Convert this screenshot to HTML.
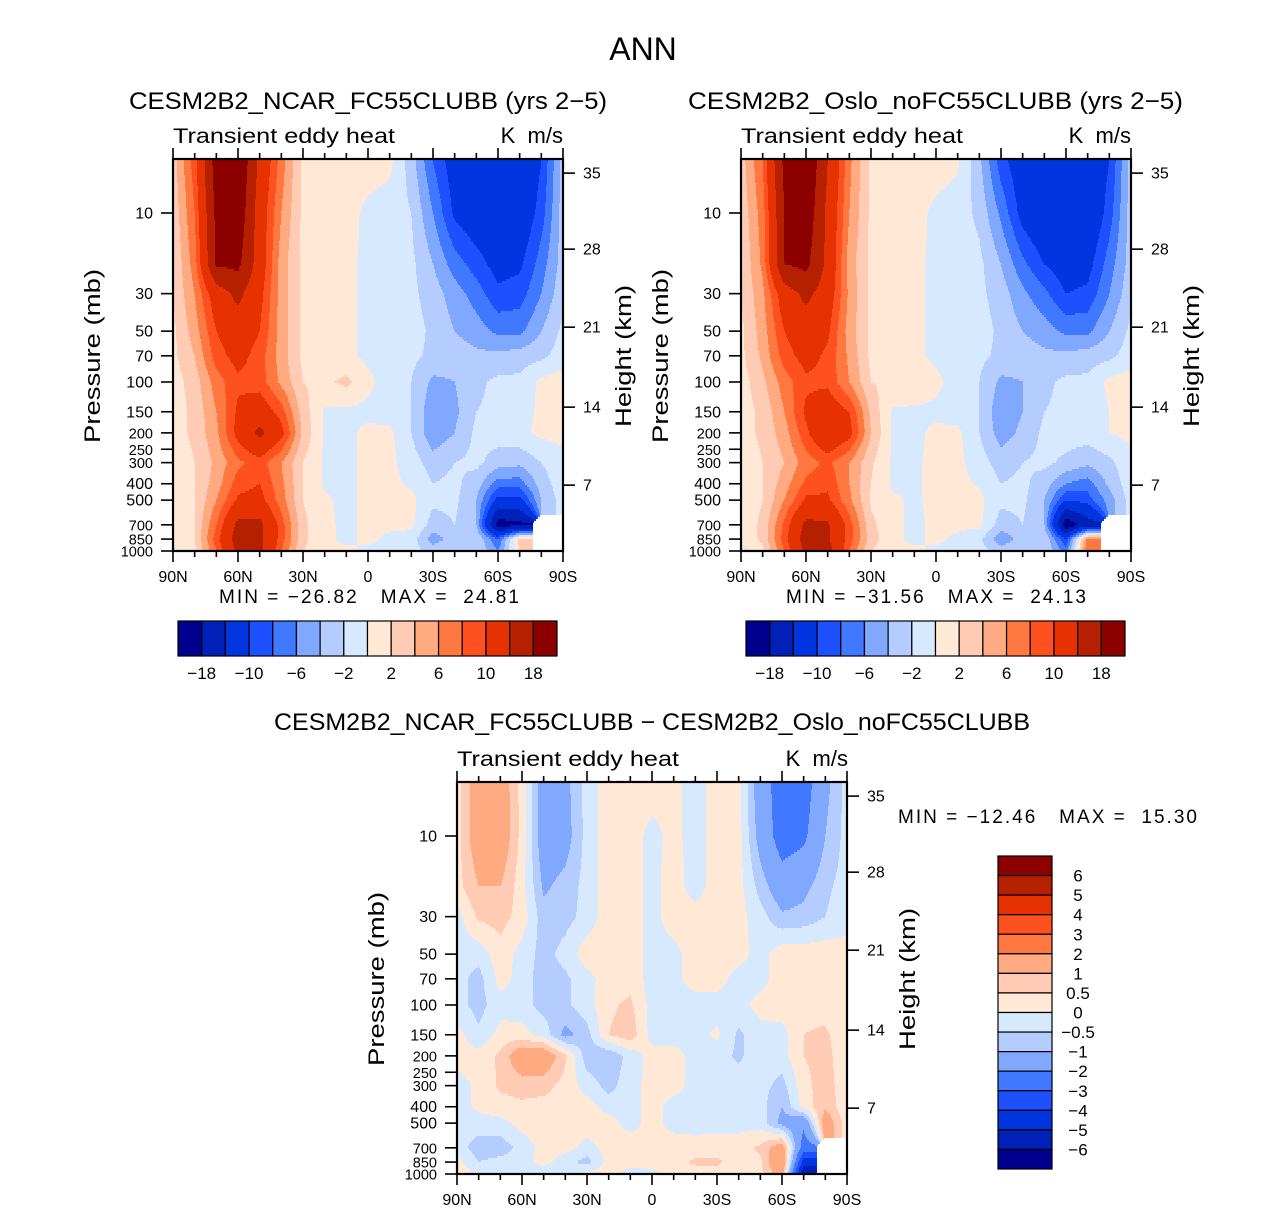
<!DOCTYPE html>
<html><head><meta charset="utf-8"><title>ANN Transient eddy heat</title>
<style>
html,body{margin:0;padding:0;background:#fff;}
svg text{font-family:"Liberation Sans",sans-serif;fill:#000;}
</style></head>
<body>
<svg id="fig" xmlns="http://www.w3.org/2000/svg" width="1285" height="1211" viewBox="0 0 1285 1211">
<rect x="0" y="0" width="1285" height="1211" fill="#fff"/>
<text x="643" y="60" font-size="32" text-anchor="middle">ANN</text>

<text x="129" y="109" font-size="24" textLength="478" lengthAdjust="spacingAndGlyphs">CESM2B2_NCAR_FC55CLUBB (yrs 2−5)</text>
<text x="173" y="143" font-size="21" textLength="222" lengthAdjust="spacingAndGlyphs">Transient eddy heat</text>
<text x="563" y="143" font-size="22" text-anchor="end" xml:space="preserve">K  m/s</text>
<text transform="translate(100,356) rotate(-90)" font-size="22" text-anchor="middle" textLength="174" lengthAdjust="spacingAndGlyphs">Pressure (mb)</text>
<text transform="translate(631,356) rotate(-90)" font-size="22" text-anchor="middle" textLength="142" lengthAdjust="spacingAndGlyphs">Height (km)</text>
<text x="219" y="603" font-size="19" textLength="300" lengthAdjust="spacing" xml:space="preserve">MIN = −26.82   MAX =  24.81</text>

<text x="688" y="109" font-size="24" textLength="495" lengthAdjust="spacingAndGlyphs">CESM2B2_Oslo_noFC55CLUBB (yrs 2−5)</text>
<text x="741" y="143" font-size="21" textLength="222" lengthAdjust="spacingAndGlyphs">Transient eddy heat</text>
<text x="1131" y="143" font-size="22" text-anchor="end" xml:space="preserve">K  m/s</text>
<text transform="translate(668,356) rotate(-90)" font-size="22" text-anchor="middle" textLength="174" lengthAdjust="spacingAndGlyphs">Pressure (mb)</text>
<text transform="translate(1199,356) rotate(-90)" font-size="22" text-anchor="middle" textLength="142" lengthAdjust="spacingAndGlyphs">Height (km)</text>
<text x="786" y="603" font-size="19" textLength="300" lengthAdjust="spacing" xml:space="preserve">MIN = −31.56   MAX =  24.13</text>

<text x="274" y="730" font-size="24" textLength="756" lengthAdjust="spacingAndGlyphs">CESM2B2_NCAR_FC55CLUBB − CESM2B2_Oslo_noFC55CLUBB</text>
<text x="457" y="766" font-size="21" textLength="222" lengthAdjust="spacingAndGlyphs">Transient eddy heat</text>
<text x="848" y="766" font-size="22" text-anchor="end" xml:space="preserve">K  m/s</text>
<text transform="translate(384,979) rotate(-90)" font-size="22" text-anchor="middle" textLength="174" lengthAdjust="spacingAndGlyphs">Pressure (mb)</text>
<text transform="translate(915,979) rotate(-90)" font-size="22" text-anchor="middle" textLength="142" lengthAdjust="spacingAndGlyphs">Height (km)</text>
<text x="898" y="823" font-size="19" textLength="299" lengthAdjust="spacing" xml:space="preserve">MIN = −12.46   MAX =  15.30</text>
</svg>
<script>
const LATS=[90,80,70,60,50,40,30,20,10,0,-10,-20,-30,-40,-50,-60,-70,-80,-90];
const PLEV=[5,10,20,30,50,70,100,150,200,300,400,500,700,850,1000];
const COLORS=["#00008f","#0020b8","#0035e0","#1e50ff","#4078ff","#80a8ff","#b4ccff","#d6e9ff","#ffe9d6","#ffcbb4","#ffaa80","#ff7840","#ff5020","#e63200","#b42000","#8c0000"];
const LEVELS_FULL=[-18,-14,-10,-8,-6,-4,-2,0,2,4,6,8,10,14,18];
const LEVELS_DIFF=[-6,-5,-4,-3,-2,-1,-0.5,0,0.5,1,2,3,4,5,6];
const LABELS_FULL=["−18","−10","−6","−2","2","6","10","18"];
const LABELS_DIFF=["6","5","4","3","2","1","0.5","0","−0.5","−1","−2","−3","−4","−5","−6"];
const XTICK_LABELS=["90N","60N","30N","0","30S","60S","90S"];
const YTICK_P=[1000,850,700,500,400,300,250,200,150,100,70,50,30,10];
const YTICK_LABELS=["1000","850","700","500","400","300","250","200","150","100","70","50","30","10"];
const HT_KM=[7,14,21,28,35];
const HT_FRAC_FROM_BOTTOM=[0.168,0.367,0.571,0.770,0.964];
const N=NaN;
const FIELD_NCAR=[
[3,9,20,22,13,7,1.5,1,1,1,0.5,-3,-8,-11.5,-12.5,-13,-13,-10,-3],
[2.5,8,19,21,12,6,1.5,1,0.8,-0.5,-1,-2,-6,-10.5,-12,-12.5,-12.5,-9,-3],
[2,7,18.5,19,12,5,1.5,1,0.5,-0.5,-1,-1.5,-4,-7,-9,-11,-10.5,-7,-3],
[2,6,12,15,11,5,1.5,1,0.5,-0.5,-1,-1.5,-3,-5,-7,-9.5,-9,-6,-2.5],
[1.5,5,10,12,10,5,1.5,1,0.5,-0.5,-1,-1,-2.5,-4,-5,-6.5,-6.5,-4,-1.5],
[1.5,4,9,11,9,5,1.5,1,0.5,-0.5,-1,-1.5,-2.5,-3,-3.5,-3.5,-3,-2.5,-1],
[1,3,7,9.5,9,5.5,2,1.5,2.5,0.5,-1,-2,-4.5,-4,-2.5,-1.5,-1.5,0.5,1],
[1,2.5,6,10.5,12,9,3,-0.3,-0.5,-0.5,-1,-2,-5.5,-4.5,-2,-1.5,-1,0.5,1],
[1,2.5,5.5,11,15,11,3.5,-0.3,-0.5,0.5,0.5,-2,-5.5,-4,-1.5,-1,-0.5,0.5,0.5],
[0.5,2,4.5,7.5,9,6,2,-0.3,-0.5,0.5,0.5,-1,-3,-2,-1.5,-3,-3.5,-2,-0.5],
[0.5,2,5,9,10,6.5,2,-0.3,-0.5,0.5,0.5,-0.3,-2,-1.5,-3,-7,-7,-3,-0.8],
[0.5,2,6,10.5,11,7,2,0.3,-0.5,0.5,0.5,0.5,-1.5,-1.5,-4,-11,-11,-4,-1],
[0.5,2,8,15,15,9,2.5,0.5,-0.5,0.5,0.5,0.5,-3,-2,-4,-20,-19,N,N],
[0.5,2,9,16,15,9,2.5,0.5,-0.5,0.5,-0.5,-1,-5,-3,-2,-8,3,N,N],
[-0.5,1.5,8,15,15,8,2,0.5,0.5,-0.5,-0.5,-1,-3,-2,-2,-6,2,N,N]];
const FIELD_OSLO=[
[3,8,19,22,14,6.5,1.5,1,1,1,0.3,-3.5,-9,-12,-13,-12,-12.5,-10,-3],
[2.5,7,18,21,13,6,1.5,1,0.8,-0.5,-1,-2.5,-6.5,-11,-13,-13,-13,-9,-3],
[2,6.5,18,19,13,5,1.5,1,0.5,-0.5,-1,-1.5,-4,-7.5,-10,-11.5,-11,-7,-3],
[2,5.5,12,15,12,5.5,1.5,1,0.5,-0.5,-1,-1.5,-3,-5.5,-7.5,-10,-9.5,-6,-2.5],
[1.5,5,10,12,10.5,5,1.5,1,0.5,-0.5,-1,-1,-2.5,-4,-5,-6.5,-6.5,-4,-1.5],
[1.5,4.5,9,11,9.5,5.5,1.5,1,0.5,-0.5,-1,-1.5,-2.5,-3,-3.5,-3.5,-3,-2.5,-1],
[1,3.5,7,9.5,9.5,6,2,1.5,2,0.5,-1,-2,-4.5,-4,-2.5,-1.5,-1.5,0.5,1],
[1,2.5,6,10.5,12,10,3.5,-0.3,-0.5,-0.5,-1,-2,-5.5,-4,-2,-1.5,-1.5,0,1],
[1,2.5,5,9.5,13.5,11,4,-0.3,-0.5,0.5,0.5,-2,-5,-3.5,-1.5,-1,-1,0,0.5],
[0.5,2,4,7,8.5,6,2.3,-0.3,-0.3,0.5,0.5,-1,-3,-2,-1.5,-2.5,-3.5,-2.5,-0.5],
[0.5,2,5,8.5,9.5,6,2,-0.3,-0.3,0.5,0.5,-0.2,-2,-1.5,-3,-6,-7,-3.5,-0.8],
[0.5,2,6,10.5,10.5,6.5,1.7,0.3,-0.3,0.5,0.5,0.5,-1.5,-1.5,-4,-10,-9,-5,-1],
[0.5,2.5,8.5,15,14.5,9,2.5,0.5,-0.5,0.5,0.5,0.5,-3,-2,-4,-21,-16,N,N],
[0.5,2.5,9,16,14.5,9,3,0.5,-0.5,0.5,-0.5,-1.5,-5.5,-3,-2,-10,7,N,N],
[-1,1.5,8,15,15.5,8,2,0.5,0.5,-0.5,-0.5,-1,-3,-2,-2,-7,8,N,N]];
const FIELD_DIFF=[
[0.3,1.5,1.5,0.3,-1.5,-1.2,-0.3,0.3,0.3,0.3,0.2,-0.3,0.3,0.2,-1.5,-2.5,-2.5,-1.2,-0.3],
[0.3,1.5,1.6,0.3,-1.5,-1.3,-0.3,0.3,0.3,-0.2,0.2,-0.3,0.3,0.2,-1.3,-2.5,-2.2,-1.0,-0.3],
[0.3,1.0,1.0,0.2,-1.1,-0.8,-0.3,0.3,0.3,-0.2,0.3,-0.3,0.3,0.2,-0.7,-1.5,-1.2,-0.6,-0.3],
[-0.2,0.6,0.7,0.3,-0.8,-0.7,-0.3,0.3,0.3,-0.2,0.3,0.3,0.3,0.2,-0.3,-0.9,-0.8,-0.5,-0.2],
[-0.3,-0.3,0.3,-0.2,-0.7,-0.3,0.3,0.3,0.3,-0.2,-0.2,0.3,0.3,0.2,-0.2,0.3,0.3,0.3,0.2],
[-0.3,-0.7,0.2,-0.2,-0.8,-0.6,-0.2,0.3,0.3,-0.2,-0.2,0.3,0.2,-0.2,-0.2,0.3,0.3,0.3,0.2],
[-0.3,-0.7,-0.2,-0.3,-0.7,-0.6,-0.2,0.4,0.6,-0.2,-0.3,-0.3,-0.2,-0.2,0.2,0.3,0.3,0.3,0.1],
[0.2,-0.4,0.2,0.2,-0.2,-1.2,-0.7,0.5,0.8,-0.2,-0.2,-0.2,0.1,-0.6,-0.2,-0.2,0.5,0.6,0.1],
[0.2,0.2,0.6,1.6,1.6,0.6,-0.8,-0.9,-0.3,0.2,0.2,-0.2,-0.3,-0.6,-0.2,-0.2,0.5,0.7,0.1],
[-0.2,0.1,0.6,0.7,0.7,0.3,-0.2,-0.7,-0.2,0.2,0.2,-0.2,-0.2,-0.2,-0.3,-0.7,0.3,0.8,0.1],
[-0.2,0.1,0.3,0.4,0.3,0.3,0.2,-0.2,-0.2,0.2,-0.2,-0.2,-0.2,-0.2,-0.3,-1.0,0.2,0.9,0.1],
[-0.2,-0.2,-0.2,0.2,0.3,0.3,0.3,0.2,-0.2,0.2,-0.2,-0.2,-0.2,-0.2,-0.2,-1.2,-1.8,1.5,0.2],
[-0.2,-0.8,-0.8,-0.3,0.2,0.2,-0.2,0.2,0.3,0.2,0.3,0.2,0.3,0.3,0.6,1.5,-2.5,N,N],
[0.2,-0.5,-0.3,-0.2,0.2,-0.3,-0.7,0.2,0.2,0.3,0.3,0.6,0.6,0.2,0.4,2.0,-4.5,N,N],
[0.5,-0.2,-0.2,-0.2,-0.5,-0.3,0.2,0.2,-0.2,-0.2,0.2,0.2,0.3,0.2,0.3,1.5,-6,N,N]];

const NS='http://www.w3.org/2000/svg';
const svg=document.getElementById('fig');
function mk(tag,attrs,parent){const e=document.createElementNS(NS,tag);for(const k in attrs)e.setAttribute(k,attrs[k]);(parent||svg).appendChild(e);return e;}
const DECADE=169;
const LOGP=PLEV.map(Math.log10);
function makeX(x0,w){return lat=>x0+(90-lat)/180*w;}
function makeY(y0,h){return p=>y0+h-(3-Math.log10(p))*DECADE;}
function levelIndex(v,levels){let k=0;while(k<levels.length&&v>=levels[k])k++;return k;}
function sample(field,fx,lp){
  const i=Math.max(0,Math.min(LATS.length-2,Math.floor(fx)));const tx=Math.max(0,Math.min(1,fx-i));
  let j=0;
  if(lp>LOGP[0]){while(j<LOGP.length-2&&lp>LOGP[j+1])j++;}
  let ty=(lp-LOGP[j])/(LOGP[j+1]-LOGP[j]);ty=Math.max(0,Math.min(1,ty));
  const vals=[field[j][i],field[j][i+1],field[j+1][i],field[j+1][i+1]];
  const wts=[(1-tx)*(1-ty),tx*(1-ty),(1-tx)*ty,tx*ty];
  let s=0,ws=0,nanW=0;
  for(let k=0;k<4;k++){if(isNaN(vals[k]))nanW+=wts[k];else{s+=vals[k]*wts[k];ws+=wts[k];}}
  if(nanW>0.6||ws===0)return NaN;
  return s/ws;
}
function drawField(name,field,levels,x0,y0,w,h){
  const g=mk('g',{});
  
  
  const step=2;
  for(let py=y0;py<y0+h;py+=step){
    const lp=3-(y0+h-(py+step/2))/DECADE;
    let runStart=x0,runCol=null;
    for(let px=x0;px<=x0+w;px++){
      let col=null;
      if(px<x0+w){const lat=90-(px+0.5-x0)/w*180;const fx=(90-lat)/10;const v=sample(field,fx,lp);col=isNaN(v)?'#ffffff':COLORS[levelIndex(v,levels)];}
      if(col!==runCol){
        if(runCol!==null){const r=mk('rect',{x:runStart,y:py,width:px-runStart+0.6,height:step+0.6,fill:runCol},g);
          
          }
        runStart=px;runCol=col;
      }
    }
  }
}
function drawAxes(name,x0,y0,w,h){
  const X=makeX(x0,w),Y=makeY(y0,h);
  const g=mk('g',{stroke:'#000','stroke-width':1.6});
  
  
  for(let lat=90;lat>=-90;lat-=10){
    const major=(lat%30===0);const x=X(lat);
    mk('line',{x1:x,y1:y0+h,x2:x,y2:y0+h+(major?11:6)},g);
    mk('line',{x1:x,y1:y0,x2:x,y2:y0-(major?11:6)},g);
  }
  XTICK_LABELS.forEach((s,k)=>{const t=mk('text',{x:X(90-30*k),y:y0+h+31,'font-size':16,'text-anchor':'middle'});t.textContent=s;
    
    });
  YTICK_P.forEach((p,k)=>{const y=Y(p);mk('line',{x1:x0-12,y1:y,x2:x0,y2:y},g);
    const t=mk('text',{x:x0-20,y:y+5.5,'font-size':(p>=200&&p<=300)||p>=700?14.5:16,'text-anchor':'end'});t.textContent=YTICK_LABELS[k];
    
    });
  HT_KM.forEach((km,k)=>{const y=y0+h*(1-HT_FRAC_FROM_BOTTOM[k]);mk('line',{x1:x0+w,y1:y,x2:x0+w+12,y2:y},g);
    const t=mk('text',{x:x0+w+20,y:y+5.5,'font-size':16});t.textContent=String(km);
    
    });
  const f=mk('rect',{x:x0,y:y0,width:w,height:h,fill:'none',stroke:'#000','stroke-width':2.2});
  
  
}
function hColorbar(name,x0,y0,w,h){
  const g=mk('g',{});
  
  
  const bw=w/COLORS.length;
  COLORS.forEach((c,k)=>{const r=mk('rect',{x:x0+k*bw,y:y0,width:bw,height:h,fill:c,stroke:'#000','stroke-width':1.2},g);
    
    });
  LABELS_FULL.forEach((s,k)=>{const t=mk('text',{x:x0+(1+2*k)*bw,y:y0+h+23,'font-size':17,'text-anchor':'middle'},g);t.textContent=s;
    
    });
}
function vColorbar(name,x0,y0,w,h){
  const g=mk('g',{});
  
  
  const bh=h/COLORS.length;
  COLORS.slice().reverse().forEach((c,k)=>{const r=mk('rect',{x:x0,y:y0+k*bh,width:w,height:bh,fill:c,stroke:'#000','stroke-width':1.2},g);
    
    });
  LABELS_DIFF.forEach((s,k)=>{const t=mk('text',{x:x0+w+26,y:y0+(k+1)*bh+6,'font-size':17,'text-anchor':'middle'},g);t.textContent=s;
    
    });
}
drawField('panel1',FIELD_NCAR,LEVELS_FULL,173,159,390,392);
drawAxes('panel1',173,159,390,392);
hColorbar('panel1-colorbar',178,621,379,35);
drawField('panel2',FIELD_OSLO,LEVELS_FULL,741,159,390,392);
drawAxes('panel2',741,159,390,392);
hColorbar('panel2-colorbar',746,621,379,35);
drawField('panel3',FIELD_DIFF,LEVELS_DIFF,457,782,390,392);
drawAxes('panel3',457,782,390,392);
vColorbar('panel3-colorbar',998,856,54,313);
</script>
</body></html>
